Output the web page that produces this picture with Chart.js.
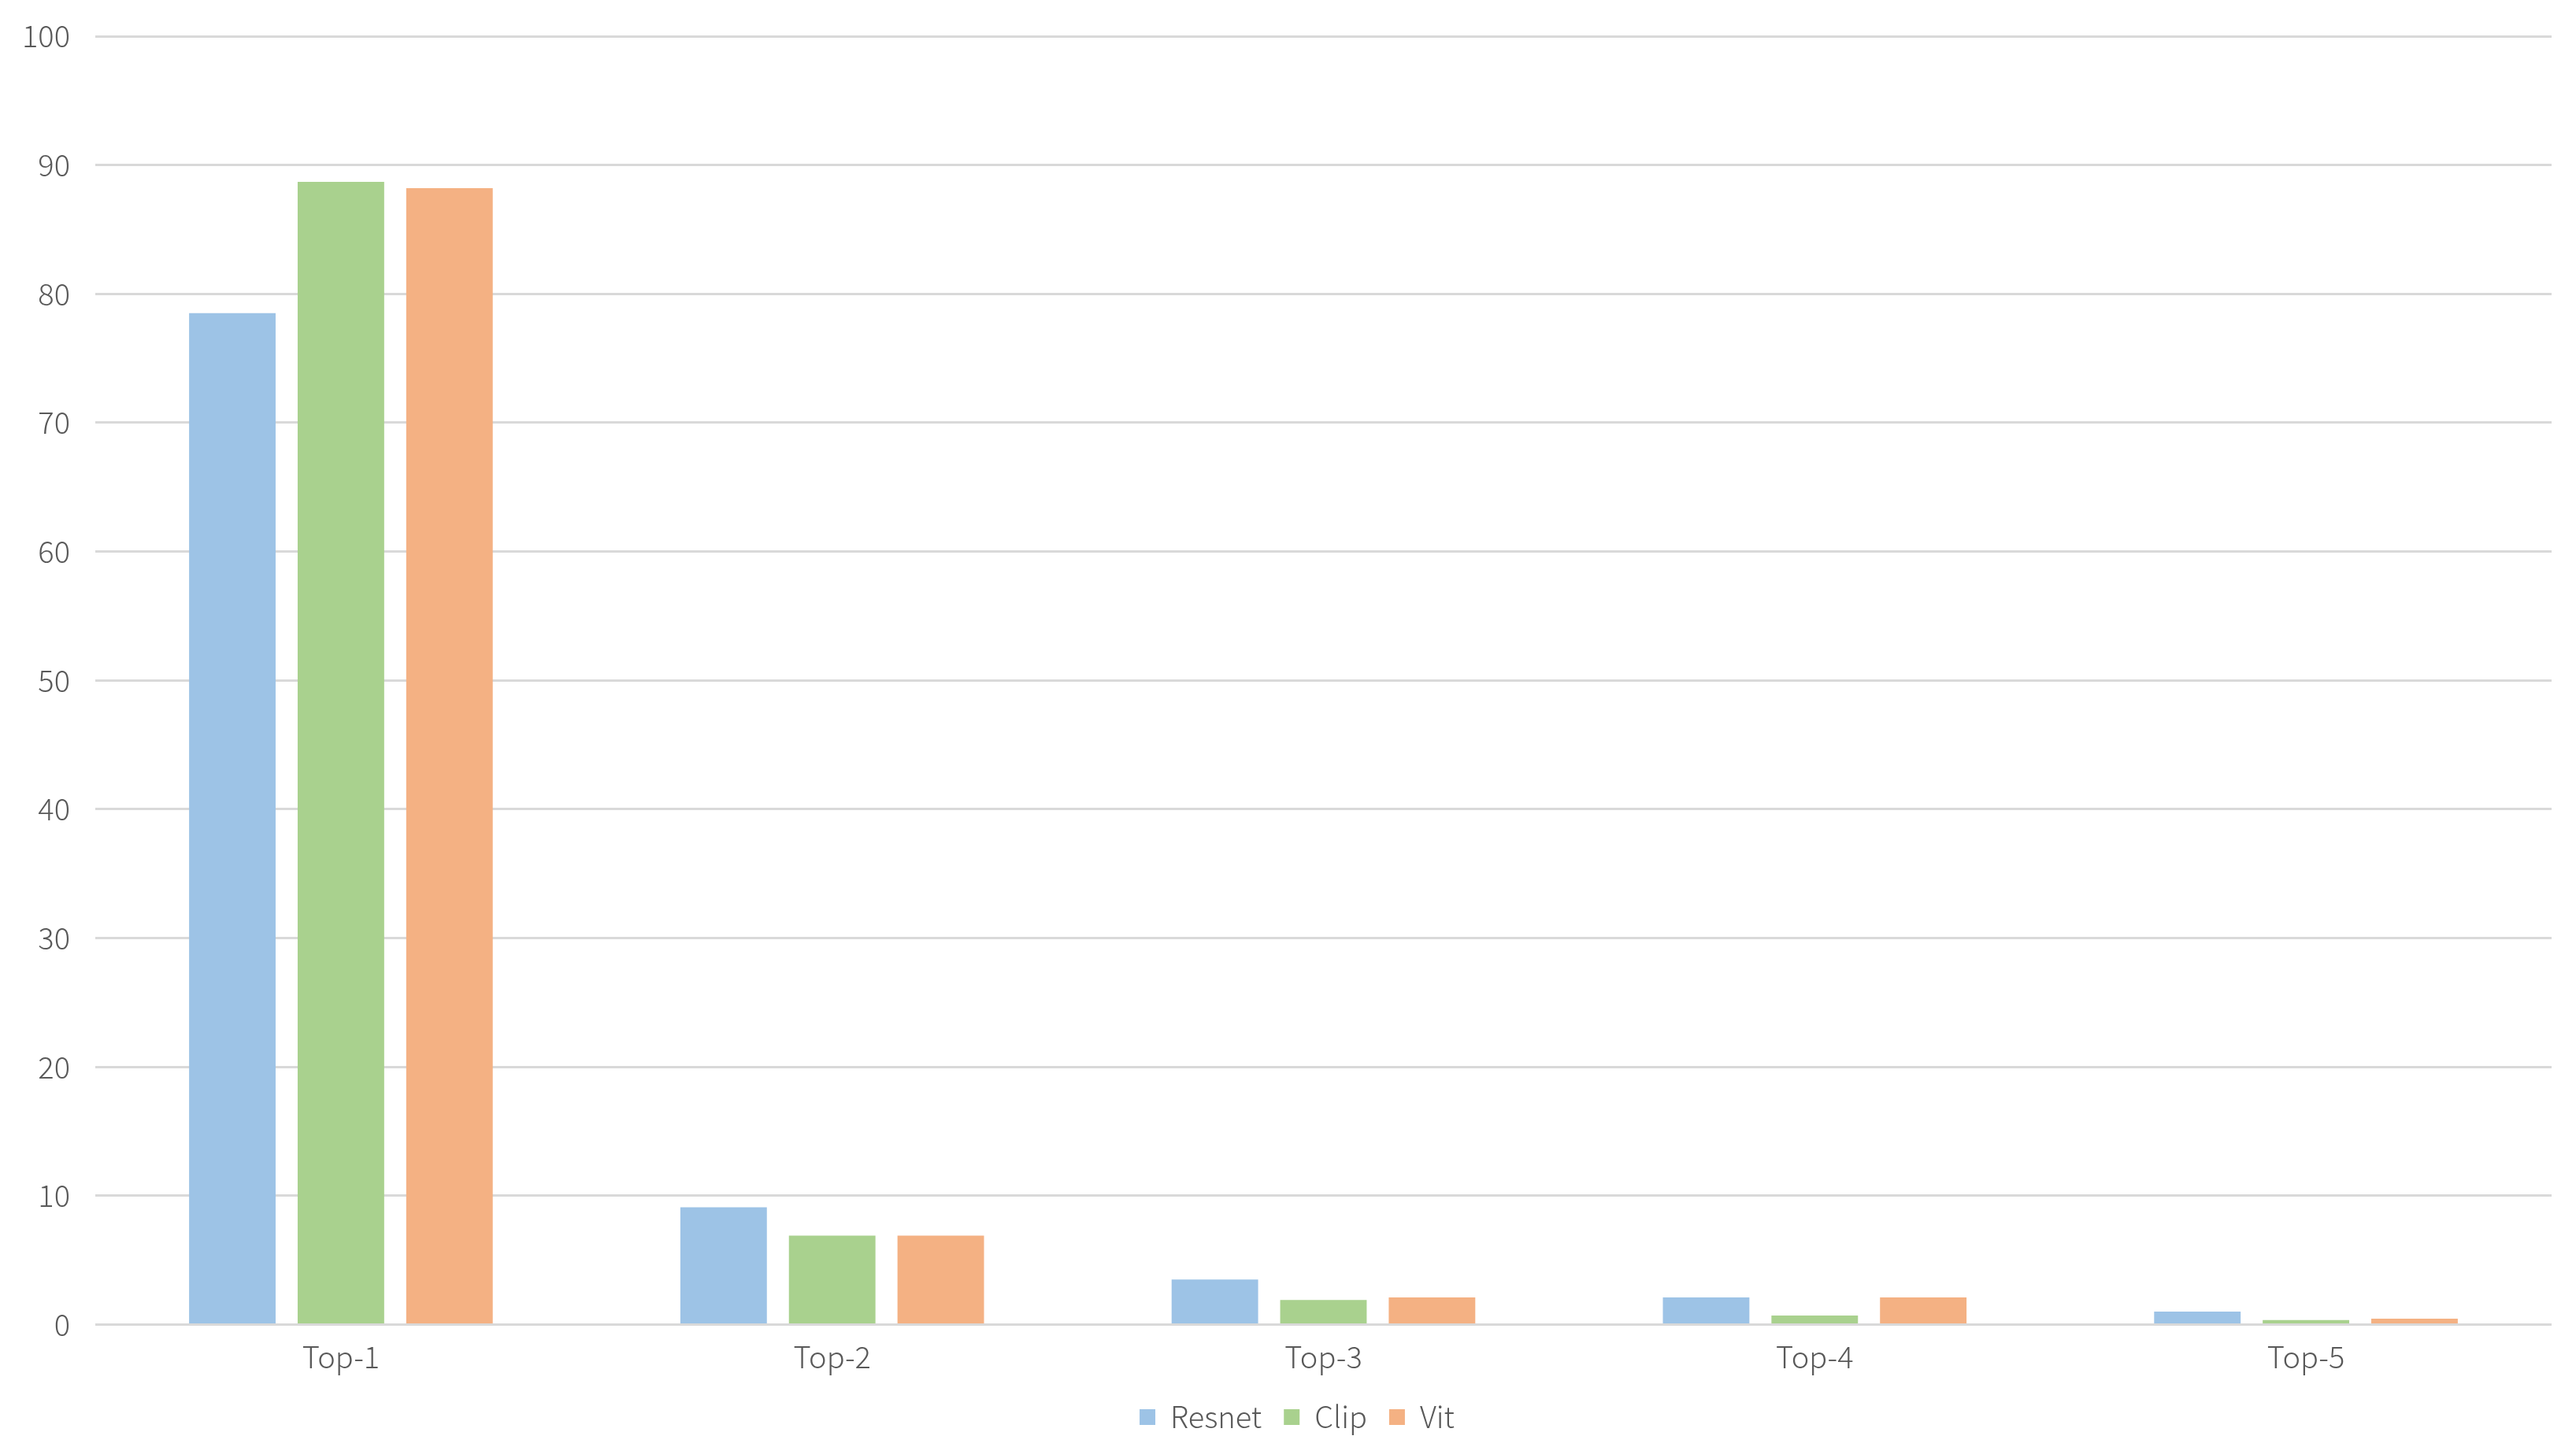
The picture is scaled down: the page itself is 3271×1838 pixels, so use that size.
<!DOCTYPE html>
<html>
<head>
<meta charset="utf-8">
<title>Top-k accuracy</title>
<script src="https://cdn.jsdelivr.net/npm/chart.js@4/dist/chart.umd.min.js"></script>
<style>
  html, body { margin: 0; padding: 0; background: #fff; }
  #chart { display: block; }
</style>
</head>
<body>
<canvas id="chart" width="3271" height="1838"></canvas>
<script>
// Top-k accuracy by backbone — grouped bars
(function () {
  'use strict';

  const CATEGORIES = ['Top-1', 'Top-2', 'Top-3', 'Top-4', 'Top-5'];
  const RESNET = [78.5, 9.1, 3.5, 2.1, 1.0];
  const CLIP = [88.7, 6.9, 1.9, 0.7, 0.35];
  const VIT = [88.2, 6.9, 2.1, 2.1, 0.45];
  const SERIES_NAMES = ['Resnet', 'Clip', 'Vit'];
  const Y_TICKS = [0, 10, 20, 30, 40, 50, 60, 70, 80, 90, 100];

  const BLUE = '#9dc3e6';
  const GREEN = '#a9d18e';
  const ORANGE = '#f4b183';
  const TEXT = '#595959';
  const GRID = '#d9d9d9';
  const FONT = "'Noto Sans CJK SC', 'Noto Sans', sans-serif";

  Chart.defaults.font.family = FONT;
  Chart.defaults.font.size = 38;
  Chart.defaults.font.weight = 300;
  Chart.defaults.color = TEXT;

  function bars(label, data, color) {
    return {
      label: label,
      data: data,
      backgroundColor: color,
      borderWidth: 0,
      categoryPercentage: 0.663,
      barPercentage: 0.797,
    };
  }

  // legend sits a little right of the canvas centre in the original
  const legendNudge = {
    id: 'legendNudge',
    afterLayout: function (chart) {
      if (!chart.legend) return;
      chart.legend.left += 27;
      chart.legend.right += 27;
    },
  };

  new Chart(document.getElementById('chart'), {
    type: 'bar',
    data: {
      labels: CATEGORIES,
      datasets: [
        bars(SERIES_NAMES[0], RESNET, BLUE),
        bars(SERIES_NAMES[1], CLIP, GREEN),
        bars(SERIES_NAMES[2], VIT, ORANGE),
      ],
    },
    plugins: [legendNudge],
    options: {
      responsive: false,
      animation: false,
      devicePixelRatio: 1,
      layout: { padding: { top: 46, right: 31, bottom: 9, left: 0 } },
      plugins: {
        tooltip: { enabled: false },
        legend: {
          position: 'bottom',
          labels: {
            boxWidth: 20,
            boxHeight: 20,
            padding: 28,
            color: TEXT,
            font: { size: 38 },
          },
        },
      },
      scales: {
        x: {
          grid: { display: false, drawTicks: false },
          border: { display: false },
          ticks: { padding: 18, color: TEXT, font: { size: 38 } },
          afterFit: function (scale) { scale.height -= 11; },
        },
        y: {
          min: 0,
          max: 100,
          afterBuildTicks: function (scale) {
            scale.ticks = Y_TICKS.map(function (v) { return { value: v }; });
          },
          afterFit: function (scale) {
            scale.width = 121;
            scale.paddingTop = 0;
            scale.paddingBottom = 0;
          },
          grid: { color: GRID, lineWidth: 3, drawTicks: false },
          border: { display: false },
          ticks: { padding: 32, color: TEXT, font: { size: 38 } },
        },
      },
    },
  });
})();
</script>
</body>
</html>
